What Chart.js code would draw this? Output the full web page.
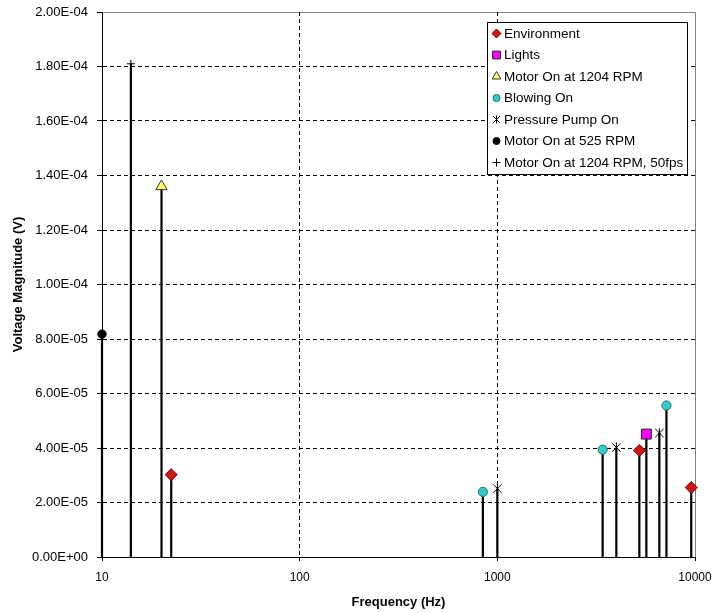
<!DOCTYPE html>
<html>
<head>
<meta charset="utf-8">
<title>Voltage Magnitude vs Frequency</title>
<script src="https://cdn.jsdelivr.net/npm/chart.js@4.4.1/dist/chart.umd.min.js"></script>
<style>
  html, body { margin: 0; padding: 0; background: #fff; }
  #wrap { width: 714px; height: 613px; }
</style>
</head>
<body>
<div id="wrap"><canvas id="spectrum"></canvas></div>
<script>
// ======
// data: frequency (Hz) and voltage magnitude (V) per condition
// ======
var seriesNames = ["Environment", "Lights", "Motor On at 1204 RPM", "Blowing On",
                   "Pressure Pump On", "Motor On at 525 RPM", "Motor On at 1204 RPM, 50fps"];

var envFreq = [22.4, 5230, 9570];
var envVolt = [3.02e-5, 3.91e-5, 2.55e-5];

var lightsFreq = [5675];
var lightsVolt = [4.51e-5];

var motor1204Freq = [20];
var motor1204Volt = [1.36e-4];

var blowingFreq = [845, 3410, 7170];
var blowingVolt = [2.39e-5, 3.94e-5, 5.56e-5];

var pumpFreq = [1000, 4000, 6600];
var pumpVolt = [2.51e-5, 4.02e-5, 4.55e-5];

var motor525Freq = [10];
var motor525Volt = [8.18e-5];

var motor50fpsFreq = [14];
var motor50fpsVolt = [1.81e-4];

var xTicks = [10, 100, 1000, 10000];
var yMin = 0, yMax = 2e-4, yStep = 2e-5;

var FONT = '"Liberation Sans", Arial, sans-serif';

// excel style asterisk marker (x with a vertical bar)
function makeAsterisk(size) {
    var c = document.createElement('canvas');
    c.width = size; c.height = size;
    var g = c.getContext('2d');
    var m = size / 2, r = size / 2 - 0.5, d = r * 0.85;
    g.strokeStyle = '#000';
    g.lineWidth = 1;
    g.beginPath();
    g.moveTo(m - d, m - d); g.lineTo(m + d, m + d);
    g.moveTo(m + d, m - d); g.lineTo(m - d, m + d);
    g.moveTo(m, m - r); g.lineTo(m, m + r);
    g.stroke();
    return c;
}
var asterisk = makeAsterisk(11);
var asteriskSmall = makeAsterisk(9);

var series = [
    { freq: envFreq, volt: envVolt, style: 'rectRot', r: 6, lr: 4.5, fill: '#d01414', edge: '#7a0000' },
    { freq: lightsFreq, volt: lightsVolt, style: 'rect', r: 7, lr: 5.5, fill: '#ff00ff', edge: '#222' },
    { freq: motor1204Freq, volt: motor1204Volt, style: 'triangle', r: 6.5, lr: 5, fill: '#ffff66', edge: '#333' },
    { freq: blowingFreq, volt: blowingVolt, style: 'circle', r: 4.6, lr: 3.6, fill: '#33cccc', edge: '#2a6f6f' },
    { freq: pumpFreq, volt: pumpVolt, style: asterisk, legendStyle: asteriskSmall, r: 5, lr: 4, fill: '#000', edge: '#000' },
    { freq: motor525Freq, volt: motor525Volt, style: 'circle', r: 4.2, lr: 3.5, fill: '#000', edge: '#000' },
    { freq: motor50fpsFreq, volt: motor50fpsVolt, style: 'cross', r: 4, lr: 4, fill: '#000', edge: '#000' }
];

var datasets = [];
var stemPoints = [];
series.forEach(function(s, i) {
    var pts = s.freq.map(function(f, k) { return { x: f, y: s.volt[k] }; });
    datasets.push({
        label: seriesNames[i],
        data: pts,
        showLine: false,
        pointStyle: s.style,
        legendStyle: s.legendStyle || s.style,
        legendRadius: s.lr,
        pointRadius: s.r,
        pointHoverRadius: s.r,
        backgroundColor: s.fill,
        borderColor: s.edge,
        pointBorderWidth: 1,
        clip: false,
        order: 0
    });
    // stems: vertical line from zero up to each value
    s.freq.forEach(function(f, k) {
        stemPoints.push({ x: f, y: 0 });
        stemPoints.push({ x: f, y: s.volt[k] });
        stemPoints.push({ x: f, y: null });
    });
});
datasets.push({
    label: 'stems',
    isStem: true,
    type: 'line',
    data: stemPoints,
    showLine: true,
    spanGaps: false,
    borderColor: '#000',
    borderWidth: 2.2,
    pointRadius: 0,
    pointHoverRadius: 0,
    clip: false,
    order: 10
});

function sci(v) {
    var parts = Number(v).toExponential(2).split('e');
    var exp = parseInt(parts[1], 10);
    var a = Math.abs(exp);
    return parts[0] + 'E' + (exp < 0 ? '-' : '+') + (a < 10 ? '0' : '') + a;
}

// white page + grey plot frame under the axes
var plotFrame = {
    id: 'plotFrame',
    beforeDraw: function(chart) {
        var ctx = chart.ctx, a = chart.chartArea;
        ctx.save();
        ctx.fillStyle = '#fff';
        ctx.fillRect(0, 0, chart.width, chart.height);
        ctx.strokeStyle = '#808080';
        ctx.lineWidth = 1;
        ctx.strokeRect(Math.round(a.left) + 0.5, Math.round(a.top) + 0.5,
                       Math.round(a.right - a.left), Math.round(a.bottom - a.top));
        ctx.restore();
    }
};

// boxed legend in the top right corner of the plot
var insideLegend = {
    id: 'insideLegend',
    afterDraw: function(chart) {
        var ctx = chart.ctx, a = chart.chartArea;
        var items = chart.data.datasets.filter(function(d) { return !d.isStem; });
        ctx.save();
        ctx.font = '13.5px ' + FONT;
        var maxW = 0;
        items.forEach(function(d) { maxW = Math.max(maxW, ctx.measureText(d.label).width); });
        var rowH = 21.5;
        var w = Math.round(17 + maxW + 4), h = Math.round(items.length * rowH + 1);
        var x0 = Math.round(a.right - 8 - w), y0 = Math.round(a.top + 10);
        ctx.fillStyle = '#fff';
        ctx.fillRect(x0, y0, w, h);
        ctx.strokeStyle = '#000';
        ctx.lineWidth = 1;
        ctx.strokeRect(x0 + 0.5, y0 + 0.5, w, h);
        items.forEach(function(d, i) {
            var cy = y0 + 11.5 + i * rowH;
            ctx.fillStyle = d.backgroundColor;
            ctx.strokeStyle = d.borderColor;
            ctx.lineWidth = 1;
            Chart.helpers.drawPoint(ctx, {
                pointStyle: d.legendStyle, radius: d.legendRadius, borderWidth: 1, rotation: 0
            }, x0 + 9.5, cy);
            ctx.fillStyle = '#000';
            ctx.textBaseline = 'middle';
            ctx.textAlign = 'left';
            ctx.fillText(d.label, x0 + 17, cy + 0.5);
        });
        ctx.restore();
    }
};

var chart = new Chart(document.getElementById('spectrum'), {
    type: 'scatter',
    data: { datasets: datasets },
    options: {
        responsive: true,
        maintainAspectRatio: false,
        animation: false,
        events: [],
        layout: { padding: { top: 12, right: 19, left: 0, bottom: 0 } },
        plugins: {
            legend: { display: false },
            tooltip: { enabled: false }
        },
        scales: {
            x: {
                type: 'logarithmic',
                min: xTicks[0],
                max: xTicks[xTicks.length - 1],
                afterBuildTicks: function(scale) {
                    scale.ticks = xTicks.map(function(v) { return { value: v }; });
                },
                afterFit: function(scale) {
                    scale.height = 56;
                    scale.paddingLeft = 0;
                    scale.paddingRight = 0;
                },
                ticks: {
                    autoSkip: false,
                    maxRotation: 0,
                    padding: 9,
                    color: '#000',
                    font: { family: FONT, size: 12 },
                    callback: function(v) { return String(v); }
                },
                grid: {
                    color: function(c) {
                        return (c.index === 0 || c.index === xTicks.length - 1) ? 'rgba(0,0,0,0)' : '#000';
                    },
                    tickColor: '#000',
                    tickLength: 4,
                    lineWidth: 1
                },
                border: { display: true, color: '#000', width: 1, dash: [4, 3] },
                title: {
                    display: true,
                    text: 'Frequency (Hz)',
                    color: '#000',
                    font: { family: FONT, size: 13, weight: 'bold' },
                    padding: { top: 0, bottom: 3 }
                }
            },
            y: {
                min: yMin,
                max: yMax,
                afterFit: function(scale) {
                    scale.width = 102;
                    scale.paddingTop = 0;
                    scale.paddingBottom = 0;
                },
                ticks: {
                    stepSize: yStep,
                    padding: 9,
                    color: '#000',
                    font: { family: FONT, size: 13 },
                    callback: function(v) { return sci(v); }
                },
                grid: {
                    color: function(c) {
                        if (!c.tick) return '#000';
                        return (c.tick.value <= yMin || c.tick.value >= yMax * 0.999) ? 'rgba(0,0,0,0)' : '#000';
                    },
                    tickColor: '#000',
                    tickLength: 5,
                    lineWidth: 1
                },
                border: { display: true, color: '#000', width: 1, dash: [4, 3] },
                title: {
                    display: true,
                    text: 'Voltage Magnitude (V)',
                    color: '#000',
                    font: { family: FONT, size: 13, weight: 'bold' },
                    padding: { top: 11, bottom: 0 }
                }
            }
        }
    },
    plugins: [plotFrame, insideLegend]
});
</script>
</body>
</html>
